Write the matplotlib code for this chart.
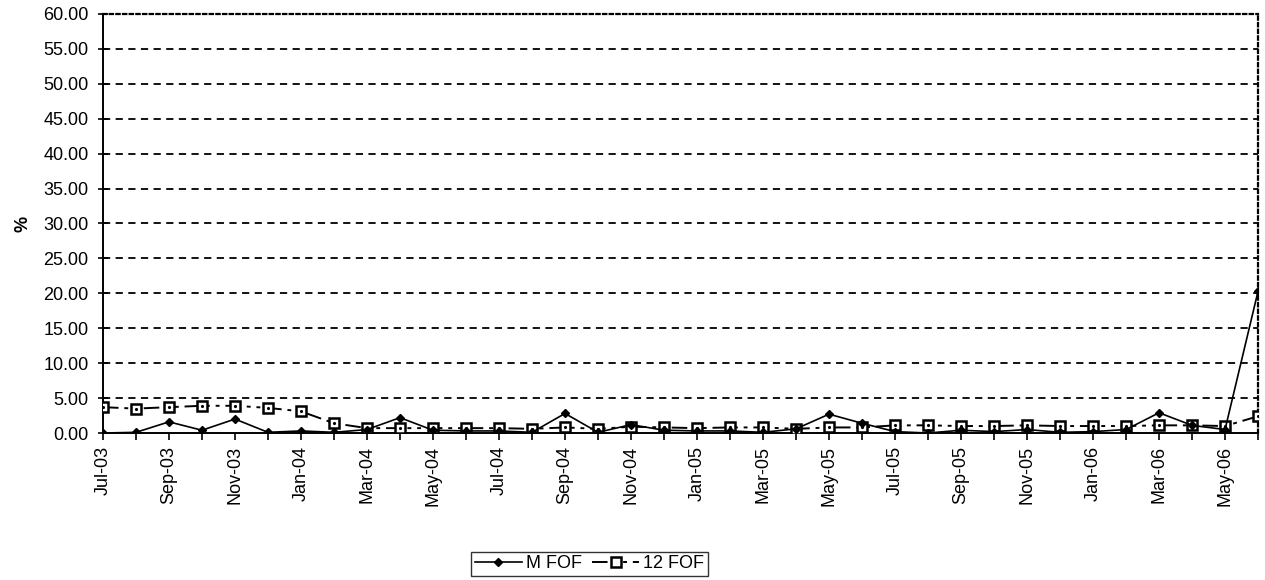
import matplotlib.pyplot as plt
from matplotlib.ticker import FixedLocator, FormatStrFormatter

plt.rcParams['font.family'] = ['Liberation Sans', 'DejaVu Sans']

months = ["Jul-03", "Aug-03", "Sep-03", "Oct-03", "Nov-03", "Dec-03",
          "Jan-04", "Feb-04", "Mar-04", "Apr-04", "May-04", "Jun-04",
          "Jul-04", "Aug-04", "Sep-04", "Oct-04", "Nov-04", "Dec-04",
          "Jan-05", "Feb-05", "Mar-05", "Apr-05", "May-05", "Jun-05",
          "Jul-05", "Aug-05", "Sep-05", "Oct-05", "Nov-05", "Dec-05",
          "Jan-06", "Feb-06", "Mar-06", "Apr-06", "May-06", "Jun-06"]

m_fof = [0.0, 0.1, 1.6, 0.4, 2.0, 0.1,
         0.3, 0.1, 0.5, 2.2, 0.4, 0.3,
         0.3, 0.1, 2.8, 0.1, 1.2, 0.4,
         0.3, 0.3, 0.1, 0.6, 2.7, 1.4,
         0.2, 0.0, 0.4, 0.2, 0.5, 0.1,
         0.2, 0.5, 2.9, 1.1, 0.5, 20.3]

fof_12 = [3.7, 3.5, 3.7, 3.9, 3.9, 3.6,
          3.1, 1.4, 0.7, 0.7, 0.7, 0.7,
          0.7, 0.6, 0.8, 0.6, 0.9, 0.8,
          0.7, 0.8, 0.8, 0.6, 0.8, 0.8,
          1.1, 1.1, 1.0, 1.0, 1.1, 1.0,
          1.0, 1.0, 1.1, 1.1, 1.0, 2.4]

x = list(range(len(months)))

fig = plt.figure(figsize=(12.65, 5.8), dpi=100)
ax = fig.add_axes([0.0814, 0.2534, 0.9131, 0.7226])

# monthly index, solid with small diamonds
ax.plot(x, m_fof, color="black", lw=1.2, marker="D", ms=4,
        mfc="black", mec="black", mew=1.0, label="M FOF", zorder=4)

# rolling 12 month, long dash-dot-dot with hollow squares
ax.plot(x, fof_12, color="black", lw=1.4, dashes=(8, 3, 2, 3, 2, 3),
        marker="s", ms=6.5, mfc="white", mec="black", mew=1.8,
        label="12 FOF", zorder=3)
ax.plot(x, fof_12, ls="none", marker=".", ms=2.5, color="black", zorder=5)

ax.set_xlim(0, len(months) - 1)
ax.set_ylim(0, 60)

ax.set_yticks(range(0, 61, 5))
ax.yaxis.set_major_formatter(FormatStrFormatter("%.2f"))
ax.xaxis.set_major_locator(FixedLocator(x))
ax.set_xticklabels([m if i % 2 == 0 else "" for i, m in enumerate(months)],
                   rotation=90, fontsize=13)
for lab in ax.get_yticklabels():
    lab.set_fontsize(13)

ax.tick_params(axis="y", direction="inout", length=7, width=1.2, pad=7)
ax.tick_params(axis="x", direction="out", length=5, width=1.2, pad=4)

ax.set_ylabel("%", fontsize=13, fontweight="bold", labelpad=8)

for y in range(5, 60, 5):
    ax.axhline(y, color="black", lw=1.3, ls=(0, (4, 3)), zorder=1)

ax.spines["left"].set_linewidth(1.4)
ax.spines["bottom"].set_linewidth(1.4)
for side in ("top", "right"):
    ax.spines[side].set_linestyle((0, (1.5, 1.5)))
    ax.spines[side].set_linewidth(1.6)

leg = fig.legend(loc="center", bbox_to_anchor=(0.466, 0.028), ncol=2,
                 frameon=True, fancybox=False, edgecolor="black",
                 fontsize=13, handlelength=2.6, handletextpad=0.2,
                 columnspacing=0.6, borderpad=0.2, borderaxespad=0)
leg.get_frame().set_linewidth(1.0)

fig.savefig("out.png", dpi=100)
